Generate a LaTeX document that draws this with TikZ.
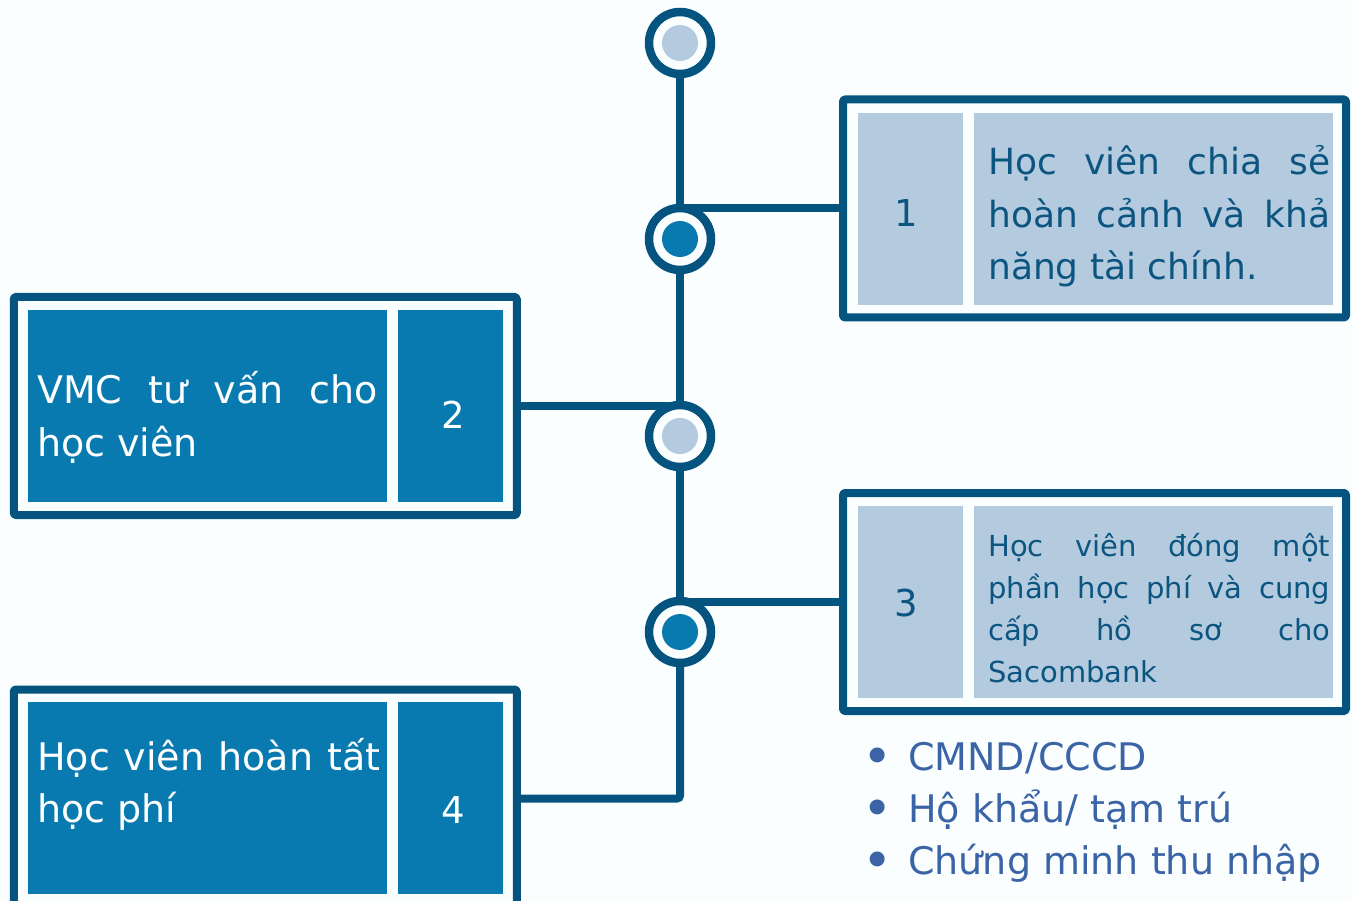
\documentclass[tikz,border=0pt]{standalone}
\usepackage{graphicx}
\usepackage{fontspec}
\setmainfont{DejaVu Sans}
\definecolor{bgc}{RGB}{250,254,255}
\definecolor{frameblue}{RGB}{5,84,127}
\definecolor{midblue}{RGB}{8,122,176}
\definecolor{lightc}{RGB}{180,203,223}
\definecolor{darktext}{RGB}{12,85,128}
\definecolor{bullettext}{RGB}{58,100,165}
\newcommand{\mybullet}{\makebox[42pt][l]{\hspace{-4pt}\raisebox{-4.5pt}{\scalebox{1.35}{•}}}}
\tikzset{
  framebox/.style={draw=frameblue, fill=bgc, line width=8pt, minimum width=503pt, minimum height=218pt, inner sep=0pt, line join=round, rounded corners=1.5pt},
  cellL/.style={fill=lightc, minimum height=192pt, inner sep=0pt},
  cellM/.style={fill=midblue, minimum height=192pt, inner sep=0pt},
  numL/.style={inner sep=0pt, text=darktext, font=\fontsize{37}{37}\selectfont},
  numM/.style={inner sep=0pt, text=white, font=\fontsize{37}{37}\selectfont},
  conn/.style={draw=frameblue, line width=8pt},
  ring/.style={circle, draw=frameblue, fill=bgc, line width=8.5pt, minimum size=62pt, inner sep=0pt},
  dotL/.style={ring, path picture={\fill[lightc] (path picture bounding box.center) circle (18pt);}},
  dotM/.style={ring, path picture={\fill[midblue] (path picture bounding box.center) circle (18pt);}},
  txt/.style={anchor=base west, inner sep=0pt},
}
\begin{document}
\begin{tikzpicture}[x=1pt,y=-1pt]
\useasboundingbox (0,0) rectangle (1353,901);
\fill[bgc] (0,0) rectangle (1353,901);

% points on the spine
\coordinate (p1) at (680,43);
\coordinate (p2) at (680,239);
\coordinate (p3) at (680,436);
\coordinate (p4) at (680,632);

% box 1
\node[framebox] (f1) at (1094.5,208.5) {};
\node[cellL, minimum width=105pt] (n1) at (910.5,209) {};
\node[cellL, minimum width=359pt] (t1) at (1153.5,209) {};
\node[numL, anchor=base] (n1t) at (906,227) {1};
\node[txt, text=darktext, font=\fontsize{36}{52.5}\selectfont] (t1t) at (988,175) {\parbox[t]{342pt}{%
\makebox[\linewidth][s]{Học viên chia sẻ}\\
\makebox[\linewidth][s]{hoàn cảnh và khả}\\
năng tài chính.}};

% box 2
\node[framebox] (f2) at (265.25,406) {};
\node[cellM, minimum width=359pt] (t2) at (207.5,406) {};
\node[cellM, minimum width=105pt] (n2) at (450.5,406) {};
\node[numM, anchor=base] (n2t) at (453,428.7) {2};
\node[txt, text=white, font=\fontsize{38}{53}\selectfont] (t2t) at (37,404) {\parbox[t]{341pt}{%
\makebox[\linewidth][s]{VMC tư vấn cho}\\
học viên}};

% box 3
\node[framebox] (f3) at (1094.5,602) {};
\node[cellL, minimum width=105pt] (n3) at (910.5,602) {};
\node[cellL, minimum width=359pt] (t3) at (1153.5,602) {};
\node[numL, anchor=base] (n3t) at (906,616.7) {3};
\node[txt, text=darktext, font=\fontsize{29}{42}\selectfont] (t3t) at (988,556) {\parbox[t]{342pt}{%
\makebox[\linewidth][s]{Học viên đóng một}\\
\makebox[\linewidth][s]{phần học phí và cung}\\
\makebox[\linewidth][s]{cấp hồ sơ cho}\\
Sacombank}};

% box 4
\node[framebox] (f4) at (265.25,798.5) {};
\node[cellM, minimum width=359pt] (t4) at (207.5,798) {};
\node[cellM, minimum width=105pt] (n4) at (450.5,798) {};
\node[numM, anchor=base] (n4t) at (453,823.7) {4};
\node[txt, text=white, font=\fontsize{38}{52}\selectfont] (t4t) at (37,770.6) {\parbox[t]{343pt}{%
\makebox[\linewidth][s]{Học viên hoàn tất}\\
học phí}};

% bullet list
\node[txt, text=bullettext, font=\fontsize{38}{38}\selectfont] (b1) at (866,770) {\mybullet CMND/CCCD};
\node[txt, text=bullettext, font=\fontsize{38}{38}\selectfont] (b2) at (866,822) {\mybullet Hộ khẩu/ tạm trú};
\node[txt, text=bullettext, font=\fontsize{38}{38}\selectfont] (b3) at (866,874) {\mybullet Chứng minh thu nhập};

% connectors
\draw[conn] (p1) -- (p4);
\draw[conn, rounded corners=3pt] (p4) |- (f4.east);
\draw[conn] (f1.west) -- (f1.west -| p1);
\draw[conn] (f2.east) -- (f2.east -| p1);
\draw[conn] (f3.west) -- (f3.west -| p1);

% spine circles
\node[dotL] (c1) at (p1) {};
\node[dotM] (c2) at (p2) {};
\node[dotL] (c3) at (p3) {};
\node[dotM] (c4) at (p4) {};
\end{tikzpicture}
\end{document}
